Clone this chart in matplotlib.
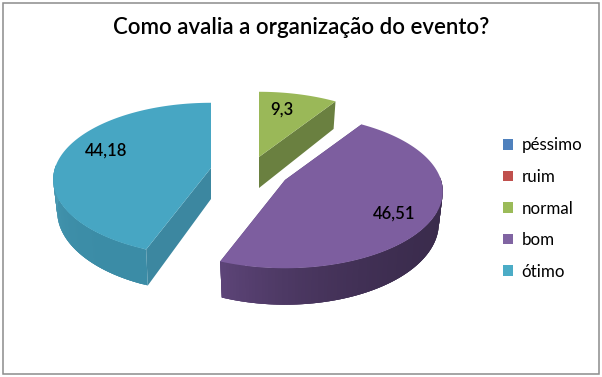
#!/usr/bin/env python3
"""Exploded 3D-style pie: Como avalia a organizacao do evento?"""
import numpy as np
import matplotlib
matplotlib.use("Agg")
import matplotlib.pyplot as plt
from matplotlib.colors import to_rgb
from matplotlib.patches import Patch, Rectangle

categories = ["péssimo", "ruim", "normal", "bom", "ótimo"]
values = [0, 0, 9.3, 46.51, 44.18]
value_labels = ["", "", "9,3", "46,51", "44,18"]
title = "Como avalia a organização do evento?"

colors = ["#4F81BD", "#C0504D", "#9BBB59", "#8064A2", "#4BACC6"]
top_colors = ["#4F81BD", "#C0504D", "#9AB858", "#7D5E9F", "#47A6C3"]
cut_colors = ["#3A6090", "#8F3B39", "#6A8040", "#56407A", "#3C87A0"]
rim_dark = ["#3A6090", "#8F3B39", "#6A8040", "#3A2B4C", "#3B8CA6"]
rim_light = ["#3A6090", "#8F3B39", "#6A8040", "#5E4579", "#4F9FB8"]

# pixel position of each slice's apex (exploded)
apex = [(252, 168), (252, 168), (259, 157), (285, 180), (211, 168)]
label_pos = [None, None, (282, 110), (394, 214), (106, 151)]

RX, RY = 156, 75
PERSP = 0.15
DEPTH = 31
BOTTOM_SHRINK = 0.975

plt.rcParams["font.family"] = ["Lato", "DejaVu Sans"]


def project(theta, radius, center):
    """theta is clockwise from the top, in radians"""
    u = radius * np.sin(theta)
    v = radius * np.cos(theta)
    s = 1 / (1 + PERSP * v)
    return center[0] + RX * u * s, center[1] - RY * v * s, DEPTH * s


def draw_slice(ax, start, end, i):
    center = apex[i]
    th = np.linspace(start, end, 160)
    x, y, d = project(th, 1.0, center)
    x0, y0, d0 = project(np.array([0.0]), 0.0, center)
    xb = center[0] + (x - center[0]) * BOTTOM_SHRINK

    # cut faces
    for k in (0, -1):
        ax.fill([x0[0], x[k], xb[k], x0[0]],
                [y0[0], y[k], y[k] + d[k], y0[0] + d0[0]],
                color=cut_colors[i], lw=0, zorder=2)

    # rim, only the part facing the viewer, shaded in overlapping strips
    dark = np.array(to_rgb(rim_dark[i]))
    light = np.array(to_rgb(rim_light[i]))
    vis = np.where(np.cos(th) < 0.05)[0]
    if len(vis) > 1:
        for n, a in enumerate(vis[:-1]):
            b = vis[min(n + 3, len(vis) - 1)]
            w = (n / (len(vis) - 1)) ** 3
            c = dark + (light - dark) * w
            ax.fill([x[a], x[b], xb[b], xb[a]],
                    [y[a], y[b], y[b] + d[b], y[a] + d[a]],
                    color=c, lw=0, zorder=3)

    # top face
    ax.fill(np.r_[x0, x], np.r_[y0, y], color=top_colors[i], lw=0, zorder=4)


fig = plt.figure(figsize=(6.02, 3.77), dpi=100)
ax = fig.add_axes([0, 0, 1, 1])
ax.set_xlim(0, 602)
ax.set_ylim(377, 0)
ax.axis("off")

ax.add_patch(Rectangle((2.5, 2.5), 596.5, 371.5, fc="white", ec="#8C8C8C", lw=1.1, zorder=0))

total = sum(values)
angle = 0.0
for i, val in enumerate(values):
    sweep = 2 * np.pi * val / total
    if val > 0:
        draw_slice(ax, angle, angle + sweep, i)
        ax.text(label_pos[i][0], label_pos[i][1], value_labels[i], ha="center", va="center",
                fontsize=12, color="black", fontweight="semibold", zorder=6)
    angle += sweep

ax.text(301, 28, title, ha="center", va="center", fontsize=16, fontweight="semibold", color="black")

handles = [Patch(facecolor=c, edgecolor="none") for c in colors]
ax.legend(handles, categories, loc="center left", bbox_to_anchor=(487.5, 208.5),
          bbox_transform=ax.transData, frameon=False, fontsize=12.2,
          labelspacing=0.92, handlelength=0.6, handleheight=0.6, handletextpad=0.5)

fig.savefig("out.png", dpi=100)
